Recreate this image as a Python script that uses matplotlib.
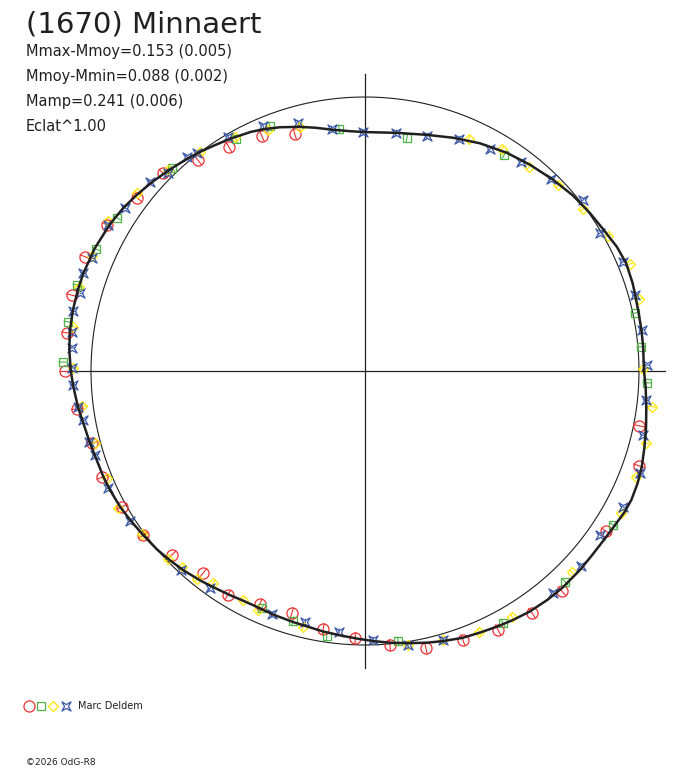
import numpy as np
import matplotlib
matplotlib.use("Agg")
import matplotlib.pyplot as plt
from matplotlib.path import Path
from matplotlib.lines import Line2D
from matplotlib.collections import LineCollection

title = "(1670) Minnaert"
info_lines = ["Mmax-Mmoy=0.153 (0.005)",
              "Mmoy-Mmin=0.088 (0.002)",
              "Mamp=0.241 (0.006)",
              "Eclat^1.00"]
observer = "Marc Deldem"
credit = "\u00a92026 OdG-R8"

# fitted curve: phase angle (deg) and relative radius
curve_phase = [0.2, 4.9, 8.4, 12.0, 16.1, 18.2, 22.4, 26.2, 30.6, 35.1, 40.2, 45.5,
               51.3, 56.9, 63.2, 69.3, 75.3, 82.3, 90.0, 93.6, 97.8, 101.5, 104.9, 109.2,
               112.5, 115.5, 120.1, 124.0, 127.0, 129.8, 134.1, 138.7, 142.6, 146.0, 150.0, 155.5,
               160.8, 164.2, 168.2, 172.1, 175.9, 179.8, 182.7, 187.1, 189.9, 194.5,
               197.3, 202.0, 205.0, 209.0, 212.4, 216.5, 220.7, 224.1, 227.6, 231.7,
               234.9, 238.9, 242.0, 246.1, 249.3, 254.0, 257.9, 260.9, 264.6, 268.3,
               271.7, 275.3, 278.8, 282.8, 286.1, 290.1, 293.8, 297.3, 300.7, 304.4,
               308.5, 312.4, 317.2, 321.0, 325.0, 327.8, 331.4, 334.2, 337.6, 340.9,
               344.8, 348.7, 352.7, 356.7, 360.2]
curve_r = [1.018, 1.019, 1.020, 1.021, 1.025, 1.028, 1.031, 1.025, 1.012, 1.003, 0.993, 0.979,
           0.964, 0.950, 0.931, 0.910, 0.891, 0.877, 0.872, 0.877, 0.889, 0.906, 0.922, 0.942,
           0.956, 0.967, 0.980, 0.991, 1.001, 1.010, 1.024, 1.040, 1.053, 1.064, 1.074, 1.083,
           1.088, 1.089, 1.089, 1.087, 1.082, 1.074, 1.067, 1.056, 1.047, 1.038,
           1.033, 1.030, 1.027, 1.022, 1.015, 1.007, 1.000, 0.992, 0.984, 0.973,
           0.964, 0.955, 0.949, 0.947, 0.950, 0.953, 0.957, 0.963, 0.969, 0.977,
           0.986, 0.996, 1.005, 1.017, 1.026, 1.037, 1.043, 1.050, 1.057, 1.064,
           1.068, 1.070, 1.069, 1.067, 1.068, 1.071, 1.078, 1.080, 1.076, 1.069,
           1.057, 1.046, 1.035, 1.026, 1.018]

red_phase = [128.4, 121.3, 113.7, 106.5, 135.6, 142.8, 150.5, 157.8, 165.5, 172.7, 180.0,
             187.5, 194.8, 202.0, 209.2, 216.5, 223.6, 231.3, 238.5, 245.7, 253.2, 260.8,
             267.9, 275.2, 282.4, 290.0, 297.2, 304.6, 311.8, 326.4, 340.9, 348.7]
red_r = [0.982, 0.956, 0.937, 0.902, 1.032, 1.044, 1.082, 1.103, 1.105, 1.096, 1.095,
         1.060, 1.030, 1.035, 1.016, 1.007, 0.973, 0.945, 0.958, 0.933, 0.923, 0.954,
         0.975, 1.004, 1.035, 1.045, 1.062, 1.073, 1.078, 1.056, 1.058, 1.020]

green_phase = [119.1, 111.2, 96.1, 79.8, 133.6, 148.3, 155.6, 163.4, 170.6, 178.3, 246.5,
               253.9, 261.8, 277.0, 298.7, 313.5, 328.2, 357.6, 5.0, 12.1, 57.2]
green_r = [0.969, 0.959, 0.888, 0.864, 1.022, 1.064, 1.078, 1.097, 1.099, 1.103, 0.943,
           0.949, 0.977, 0.993, 1.049, 1.061, 1.066, 1.030, 1.011, 1.008, 0.938]

yellow_phase = [127.0, 119.1, 111.9, 104.9, 134.4, 142.0, 149.7, 157.2, 163.6, 171.4, 179.4,
                187.1, 194.9, 202.5, 209.0, 216.2, 223.7, 227.0, 231.1, 234.4, 241.9, 245.9,
                256.4, 278.9, 286.2, 293.6, 300.9, 315.8, 331.0, 338.6, 345.6, 352.9,
                0.4, 14.7, 22.0, 29.1, 36.6, 43.9, 51.2, 58.3, 65.9]
yellow_r = [1.000, 0.977, 0.948, 0.922, 1.027, 1.055, 1.086, 1.081, 1.088, 1.078, 1.066,
            1.040, 1.020, 1.019, 1.031, 1.008, 0.994, 0.978, 0.976, 0.952, 0.947, 0.956,
            0.961, 1.012, 1.022, 1.039, 1.046, 1.053, 1.068, 1.062, 1.059, 1.056,
            1.015, 1.034, 1.043, 1.015, 0.991, 0.978, 0.955, 0.952, 0.928]

blue_phase = [129.7, 127.6, 120.3, 112.6, 105.1, 97.8, 90.5, 82.6, 75.2, 67.9, 60.6, 53.3,
              45.9, 38.1, 30.4, 22.9, 15.7, 8.4, 1.2, 354.1, 347.0, 339.6, 332.2, 325.1,
              317.9, 310.3, 286.2, 278.9, 271.7, 264.3, 256.6, 249.1, 234.5, 227.2, 212.6,
              204.5, 197.3, 194.4, 189.9, 187.1, 182.7, 179.4, 175.5, 172.4, 168.4, 164.7,
              160.8, 157.5, 150.4, 145.8, 138.7, 134.9]
blue_r = [1.016, 1.005, 0.990, 0.969, 0.937, 0.891, 0.872, 0.876, 0.887, 0.914, 0.930, 0.952,
          0.976, 1.011, 0.995, 1.022, 1.024, 1.022, 1.029, 1.031, 1.041, 1.071, 1.064, 1.046,
          1.062, 1.062, 1.022, 1.012, 0.982, 0.957, 0.942, 0.949, 0.973, 0.989, 1.018,
          1.031, 1.032, 1.040, 1.045, 1.056, 1.067, 1.069, 1.073, 1.079, 1.088, 1.078,
          1.090, 1.078, 1.079, 1.059, 1.045, 1.019]

# error on each point (relative radius)
red_err, green_err, yellow_err, blue_err = 0.022, 0.016, 0.014, 0.012


def to_xy(phase, r):
    a = np.radians(np.asarray(phase))
    r = np.asarray(r)
    return r * np.cos(a), r * np.sin(a)


W, H = 688, 768
cx, cy, R = 365, 371, 274
lim = 1.16
fig = plt.figure(figsize=(W / 100, H / 100), dpi=100)
ax = fig.add_axes([(cx - lim * R) / W, (H - cy - lim * R) / H, 2 * lim * R / W, 2 * lim * R / H])
ax.set_xlim(-lim, lim)
ax.set_ylim(-lim, lim)
ax.axis("off")

ink = "#202020"
ax.plot([-1.095, 1.095], [0, 0], color=ink, lw=0.9, zorder=1)
ax.plot([0, 0], [-1.084, 1.084], color=ink, lw=0.9, zorder=1)
t = np.linspace(0, 2 * np.pi, 400)
ax.plot(np.cos(t), np.sin(t), color=ink, lw=0.8, zorder=1)

star = Path([(1, 1), (0, 0.42), (-1, 1), (-0.42, 0), (-1, -1), (0, -0.42), (1, -1), (0.42, 0), (1, 1)],
            [Path.MOVETO] + [Path.LINETO] * 7 + [Path.CLOSEPOLY])

series = [
    (red_phase, red_r, red_err, "#ee3030", "o", 8.0),
    (green_phase, green_r, green_err, "#4cb444", "s", 5.8),
    (yellow_phase, yellow_r, yellow_err, "#ffe600", "D", 5.4),
    (blue_phase, blue_r, blue_err, "#3a58a8", star, 6.6),
]
for phase, r, err, col, mk, ms in series:
    x, y = to_xy(phase, r)
    x0, y0 = to_xy(phase, np.asarray(r) - err)
    x1, y1 = to_xy(phase, np.asarray(r) + err)
    segs = [[(a, b), (c, d)] for a, b, c, d in zip(x0, y0, x1, y1)]
    ax.add_collection(LineCollection(segs, colors=col, linewidths=0.8, zorder=2))
    ax.plot(x, y, ls="none", marker=mk, ms=ms, mfc="none", mec=col, mew=0.9, zorder=3)

cxs, cys = to_xy(curve_phase, curve_r)
ax.plot(cxs, cys, color=ink, lw=1.8, zorder=4, solid_joinstyle="round")

fam = "DejaVu Sans"
fig.text(26 / W, 1 - 32 / H, title, fontsize=21, color=ink, family=fam, va="baseline")
for i, line in enumerate(info_lines):
    fig.text(26 / W, 1 - (56 + 25 * i) / H, line, fontsize=10.5, color=ink, family=fam, va="baseline")

# legend
leg_x = [29, 41, 53, 66]
for (phase, r, err, col, mk, ms), lx in zip(series, leg_x):
    fig.add_artist(Line2D([lx / W], [1 - 706 / H], transform=fig.transFigure, ls="none",
                          marker=mk, ms=ms, mfc="none", mec=col, mew=0.9))
fig.text(78 / W, 1 - 709 / H, observer, fontsize=7, color=ink, family=fam, va="baseline")
fig.text(26 / W, 1 - 765 / H, credit, fontsize=6.5, color=ink, family=fam, va="baseline")

fig.savefig("out.png", dpi=100)
